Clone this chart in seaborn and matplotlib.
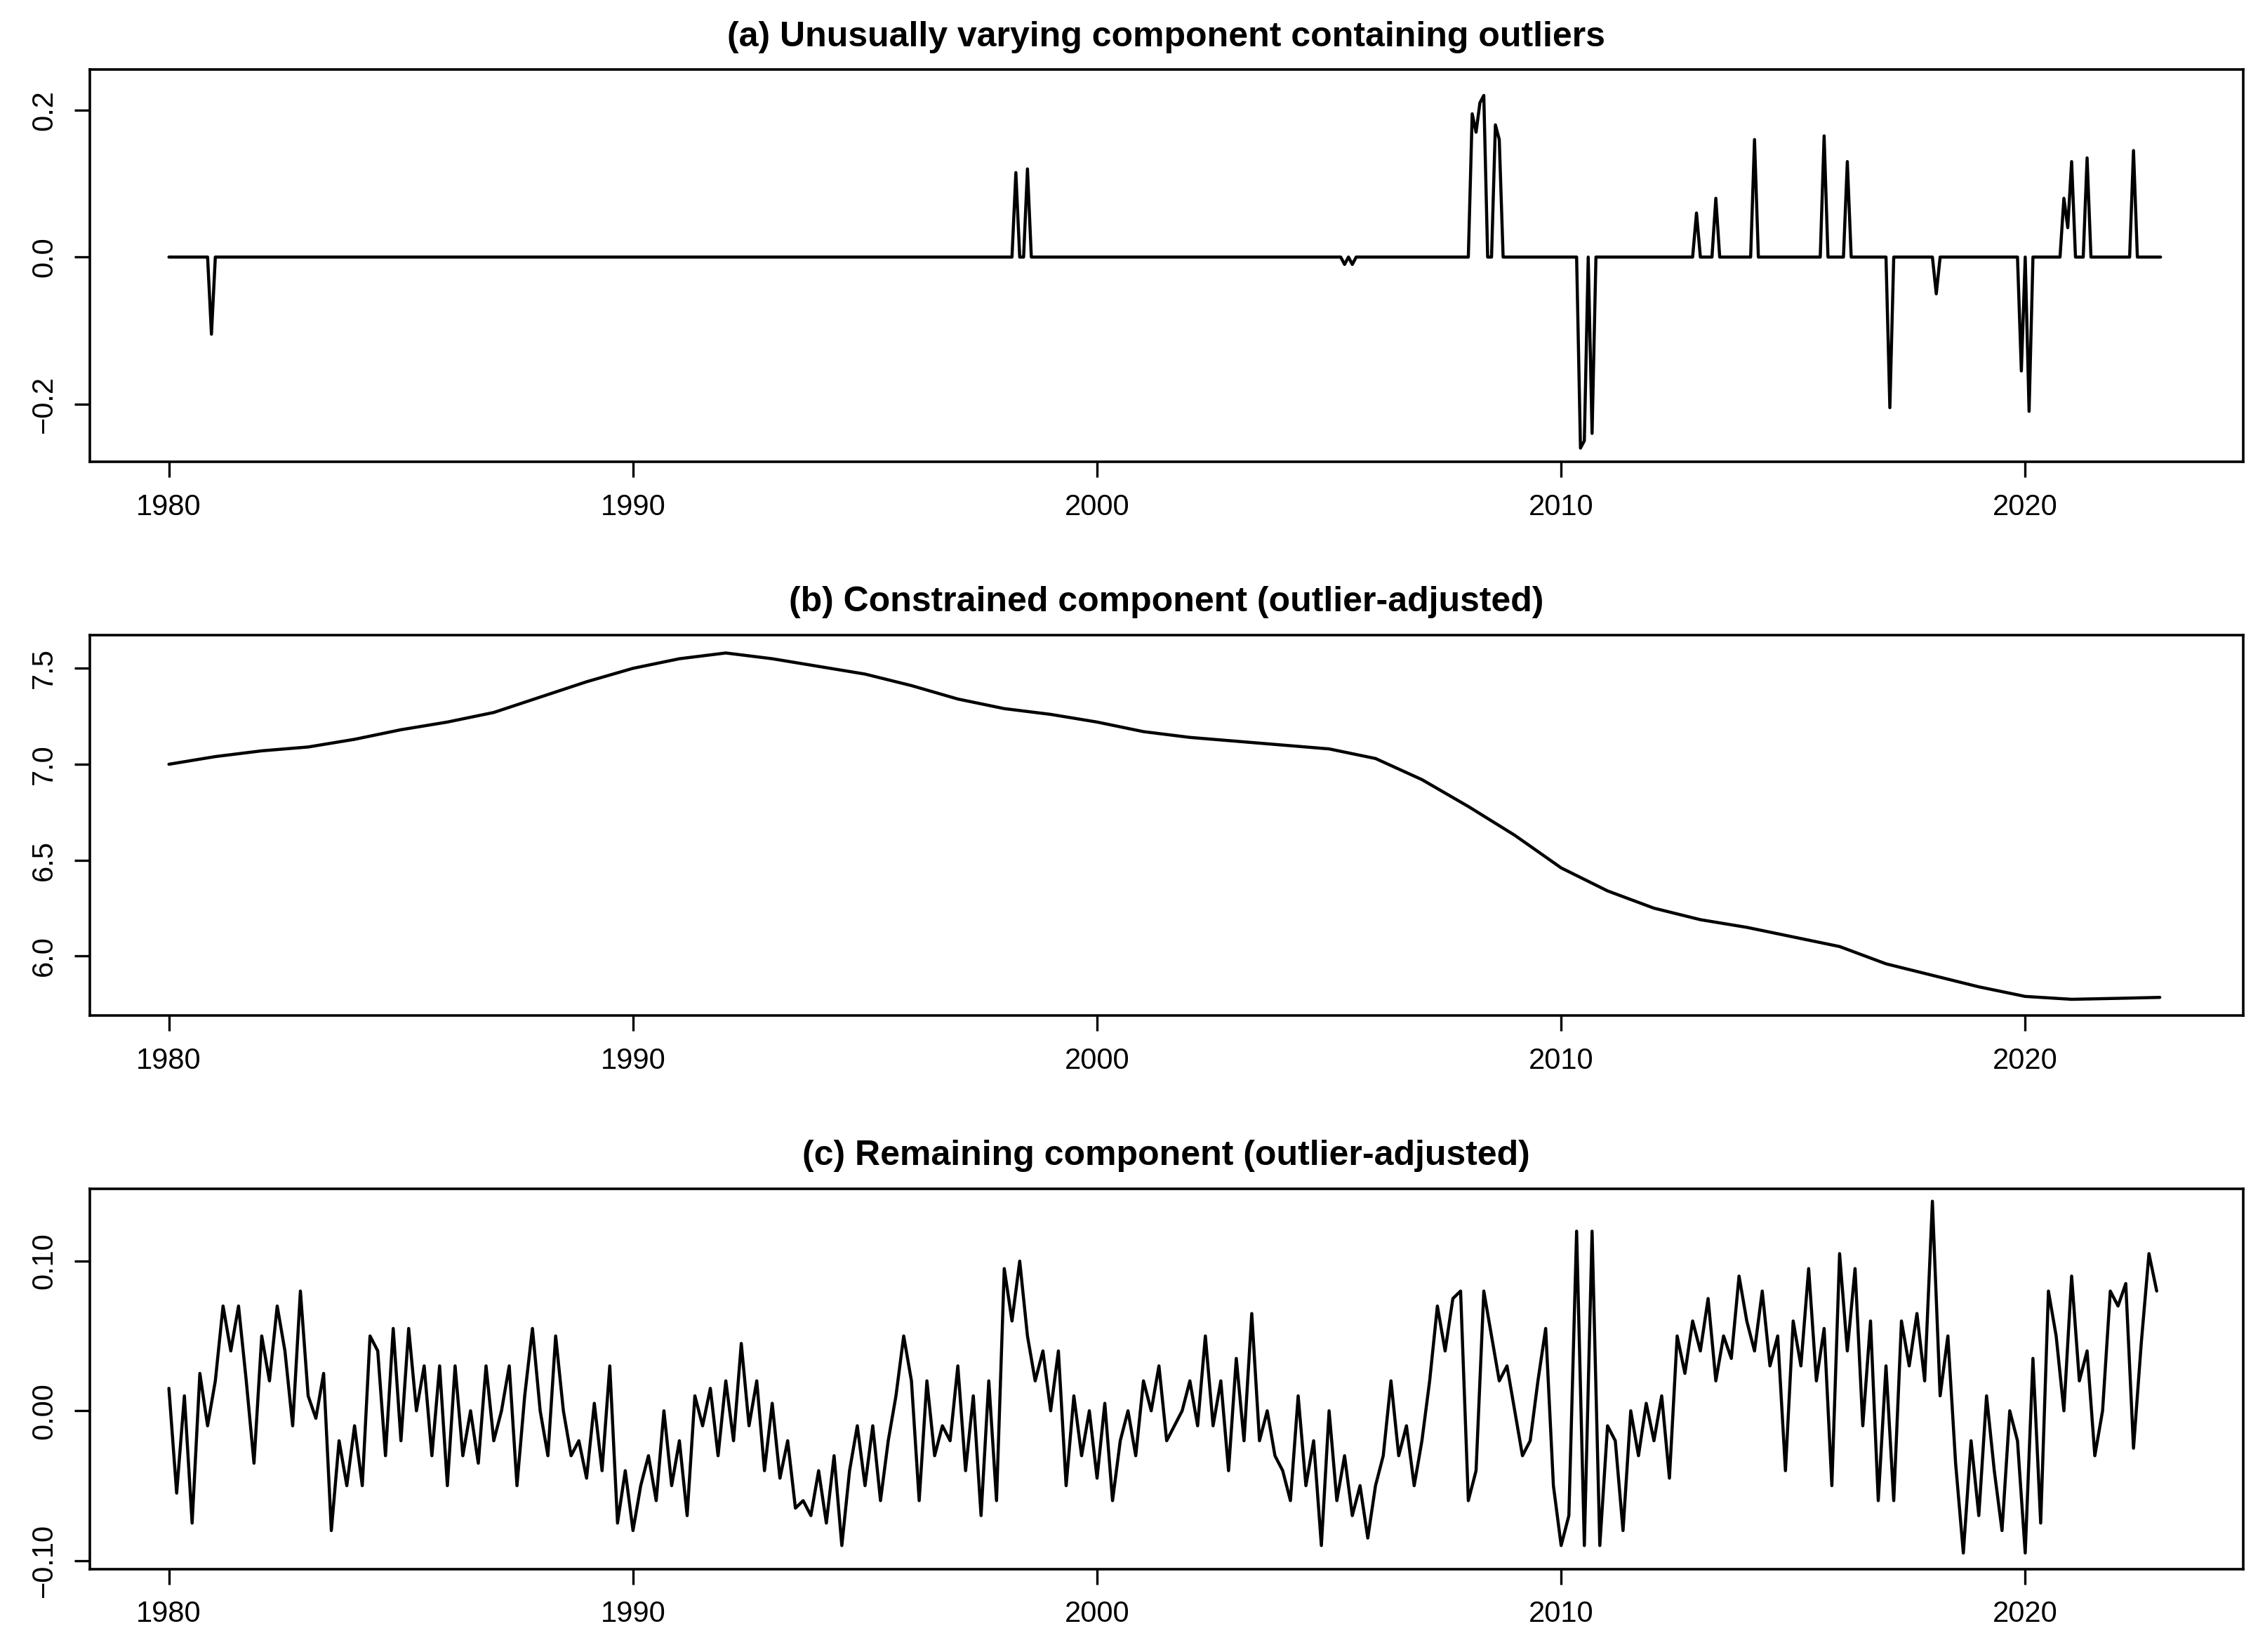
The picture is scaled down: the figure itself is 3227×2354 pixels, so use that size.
import numpy as np
import pandas as pd
import matplotlib
matplotlib.use("Agg")
import matplotlib.pyplot as plt
import seaborn as sns

# (a) outliers on a monthly grid from 1980-01 to 2022-12
outlier_dates = [1980.92, 1998.25, 1998.5, 2005.33, 2005.5, 2008.08, 2008.17, 2008.25, 2008.33,
                 2008.58, 2008.67, 2010.42, 2010.5, 2010.67, 2012.92, 2013.33, 2014.17, 2015.67,
                 2016.17, 2017.08, 2018.08, 2019.92, 2020.08, 2020.83, 2020.92, 2021.0, 2021.33, 2022.33]
outlier_vals = [-0.105, 0.115, 0.12, -0.01, -0.01, 0.195, 0.17, 0.21, 0.22,
                0.18, 0.16, -0.26, -0.25, -0.24, 0.06, 0.08, 0.16, 0.165,
                0.13, -0.205, -0.05, -0.155, -0.21, 0.08, 0.04, 0.13, 0.135, 0.145]

# (b) constrained component
b_years = [1980, 1981, 1982, 1983, 1984, 1985, 1986, 1987, 1988, 1989, 1990, 1991, 1992, 1993, 1994,
           1995, 1996, 1997, 1998, 1999, 2000, 2001, 2002, 2003, 2004, 2005, 2006, 2007, 2008, 2009,
           2010, 2011, 2012, 2013, 2014, 2015, 2016, 2017, 2018, 2019, 2020, 2021, 2022, 2022.9]
b_vals = [7.00, 7.04, 7.07, 7.09, 7.13, 7.18, 7.22, 7.27, 7.35, 7.43, 7.50, 7.55, 7.58, 7.55, 7.51,
          7.47, 7.41, 7.34, 7.29, 7.26, 7.22, 7.17, 7.14, 7.12, 7.10, 7.08, 7.03, 6.92, 6.78, 6.63,
          6.46, 6.34, 6.25, 6.19, 6.15, 6.10, 6.05, 5.96, 5.90, 5.84, 5.79, 5.775, 5.78, 5.785]

# (c) remaining component, bi-monthly from 1980
c_vals = [
 0.015, -0.055, 0.01, -0.075, 0.025, -0.01,
 0.02, 0.07, 0.04, 0.07, 0.02, -0.035,
 0.05, 0.02, 0.07, 0.04, -0.01, 0.08,
 0.01, -0.005, 0.025, -0.08, -0.02, -0.05,
 -0.01, -0.05, 0.05, 0.04, -0.03, 0.055,
 -0.02, 0.055, 0.0, 0.03, -0.03, 0.03,
 -0.05, 0.03, -0.03, 0.0, -0.035, 0.03,
 -0.02, 0.0, 0.03, -0.05, 0.01, 0.055,
 0.0, -0.03, 0.05, 0.0, -0.03, -0.02,
 -0.045, 0.005, -0.04, 0.03, -0.075, -0.04,
 -0.08, -0.05, -0.03, -0.06, 0.0, -0.05,
 -0.02, -0.07, 0.01, -0.01, 0.015, -0.03,
 0.02, -0.02, 0.045, -0.01, 0.02, -0.04,
 0.005, -0.045, -0.02, -0.065, -0.06, -0.07,
 -0.04, -0.075, -0.03, -0.09, -0.04, -0.01,
 -0.05, -0.01, -0.06, -0.02, 0.01, 0.05,
 0.02, -0.06, 0.02, -0.03, -0.01, -0.02,
 0.03, -0.04, 0.01, -0.07, 0.02, -0.06,
 0.095, 0.06, 0.1, 0.05, 0.02, 0.04,
 0.0, 0.04, -0.05, 0.01, -0.03, 0.0,
 -0.045, 0.005, -0.06, -0.02, 0.0, -0.03,
 0.02, 0.0, 0.03, -0.02, -0.01, 0.0,
 0.02, -0.01, 0.05, -0.01, 0.02, -0.04,
 0.035, -0.02, 0.065, -0.02, 0.0, -0.03,
 -0.04, -0.06, 0.01, -0.05, -0.02, -0.09,
 0.0, -0.06, -0.03, -0.07, -0.05, -0.085,
 -0.05, -0.03, 0.02, -0.03, -0.01, -0.05,
 -0.02, 0.02, 0.07, 0.04, 0.075, 0.08,
 -0.06, -0.04, 0.08, 0.05, 0.02, 0.03,
 0.0, -0.03, -0.02, 0.02, 0.055, -0.05,
 -0.09, -0.07, 0.12, -0.09, 0.12, -0.09,
 -0.01, -0.02, -0.08, 0.0, -0.03, 0.005,
 -0.02, 0.01, -0.045, 0.05, 0.025, 0.06,
 0.04, 0.075, 0.02, 0.05, 0.035, 0.09,
 0.06, 0.04, 0.08, 0.03, 0.05, -0.04,
 0.06, 0.03, 0.095, 0.02, 0.055, -0.05,
 0.105, 0.04, 0.095, -0.01, 0.06, -0.06,
 0.03, -0.06, 0.06, 0.03, 0.065, 0.02,
 0.14, 0.01, 0.05, -0.035, -0.095, -0.02,
 -0.07, 0.01, -0.04, -0.08, 0.0, -0.02,
 -0.095, 0.035, -0.075, 0.08, 0.05, 0.0,
 0.09, 0.02, 0.04, -0.03, 0.0, 0.08,
 0.07, 0.085, -0.025, 0.045, 0.105, 0.08]

titles = ["(a) Unusually varying component containing outliers",
          "(b) Constrained component (outlier-adjusted)",
          "(c) Remaining component (outlier-adjusted)"]

a_x = np.round(np.arange(1980, 2023, 1/12), 4)
a_y = np.zeros(len(a_x))
for d, v in zip(outlier_dates, outlier_vals):
    a_y[np.argmin(np.abs(a_x - d))] = v
df_a = pd.DataFrame({"t": a_x[a_x <= 2022.92], "v": a_y[a_x <= 2022.92]})
df_b = pd.DataFrame({"t": b_years, "v": b_vals})
df_c = pd.DataFrame({"t": 1980 + np.arange(len(c_vals)) / 6, "v": c_vals})

sns.set_style("white")
plt.rcParams["font.family"] = "Liberation Sans"
plt.rcParams["text.color"] = "black"
plt.rcParams["xtick.color"] = "black"
plt.rcParams["ytick.color"] = "black"
plt.rcParams["xtick.labelcolor"] = "black"
plt.rcParams["ytick.labelcolor"] = "black"
fig = plt.figure(figsize=(16.135, 11.77), dpi=200)
H = 1137.0
W = 1568.0
boxes = [(48, 318), (437, 699), (818, 1080)]
ylims = [(-0.279, 0.255), (5.69, 7.674), (-0.1058, 0.1485)]
yticks = [([-0.2, 0.0, 0.2], ["−0.2", "0.0", "0.2"]),
          ([6.0, 6.5, 7.0, 7.5], ["6.0", "6.5", "7.0", "7.5"]),
          ([-0.10, 0.0, 0.10], ["−0.10", "0.00", "0.10"])]
for i, (df, (top, bot)) in enumerate(zip([df_a, df_b, df_c], boxes)):
    ax = fig.add_axes([62 / W, 1 - bot / H, (1553 - 62) / W, (bot - top) / H])
    sns.lineplot(data=df, x="t", y="v", ax=ax, color="black", linewidth=1.6)
    ax.set_xlim(1978.29, 2024.7)
    ax.set_ylim(*ylims[i])
    ax.set_xticks([1980, 1990, 2000, 2010, 2020])
    ax.set_yticks(yticks[i][0])
    ax.set_yticklabels(yticks[i][1], rotation=90, va="center")
    ax.tick_params(direction="out", length=8, width=1.2, labelsize=15, left=True, bottom=True,
                   pad=8, colors="black")
    ax.set_xlabel("")
    ax.set_ylabel("")
    for s in ax.spines.values():
        s.set_linewidth(1.3)
        s.set_color("black")
    ax.set_title(titles[i], fontsize=18, fontweight="bold", pad=12, color="black")

fig.savefig("out.png", dpi=200)
